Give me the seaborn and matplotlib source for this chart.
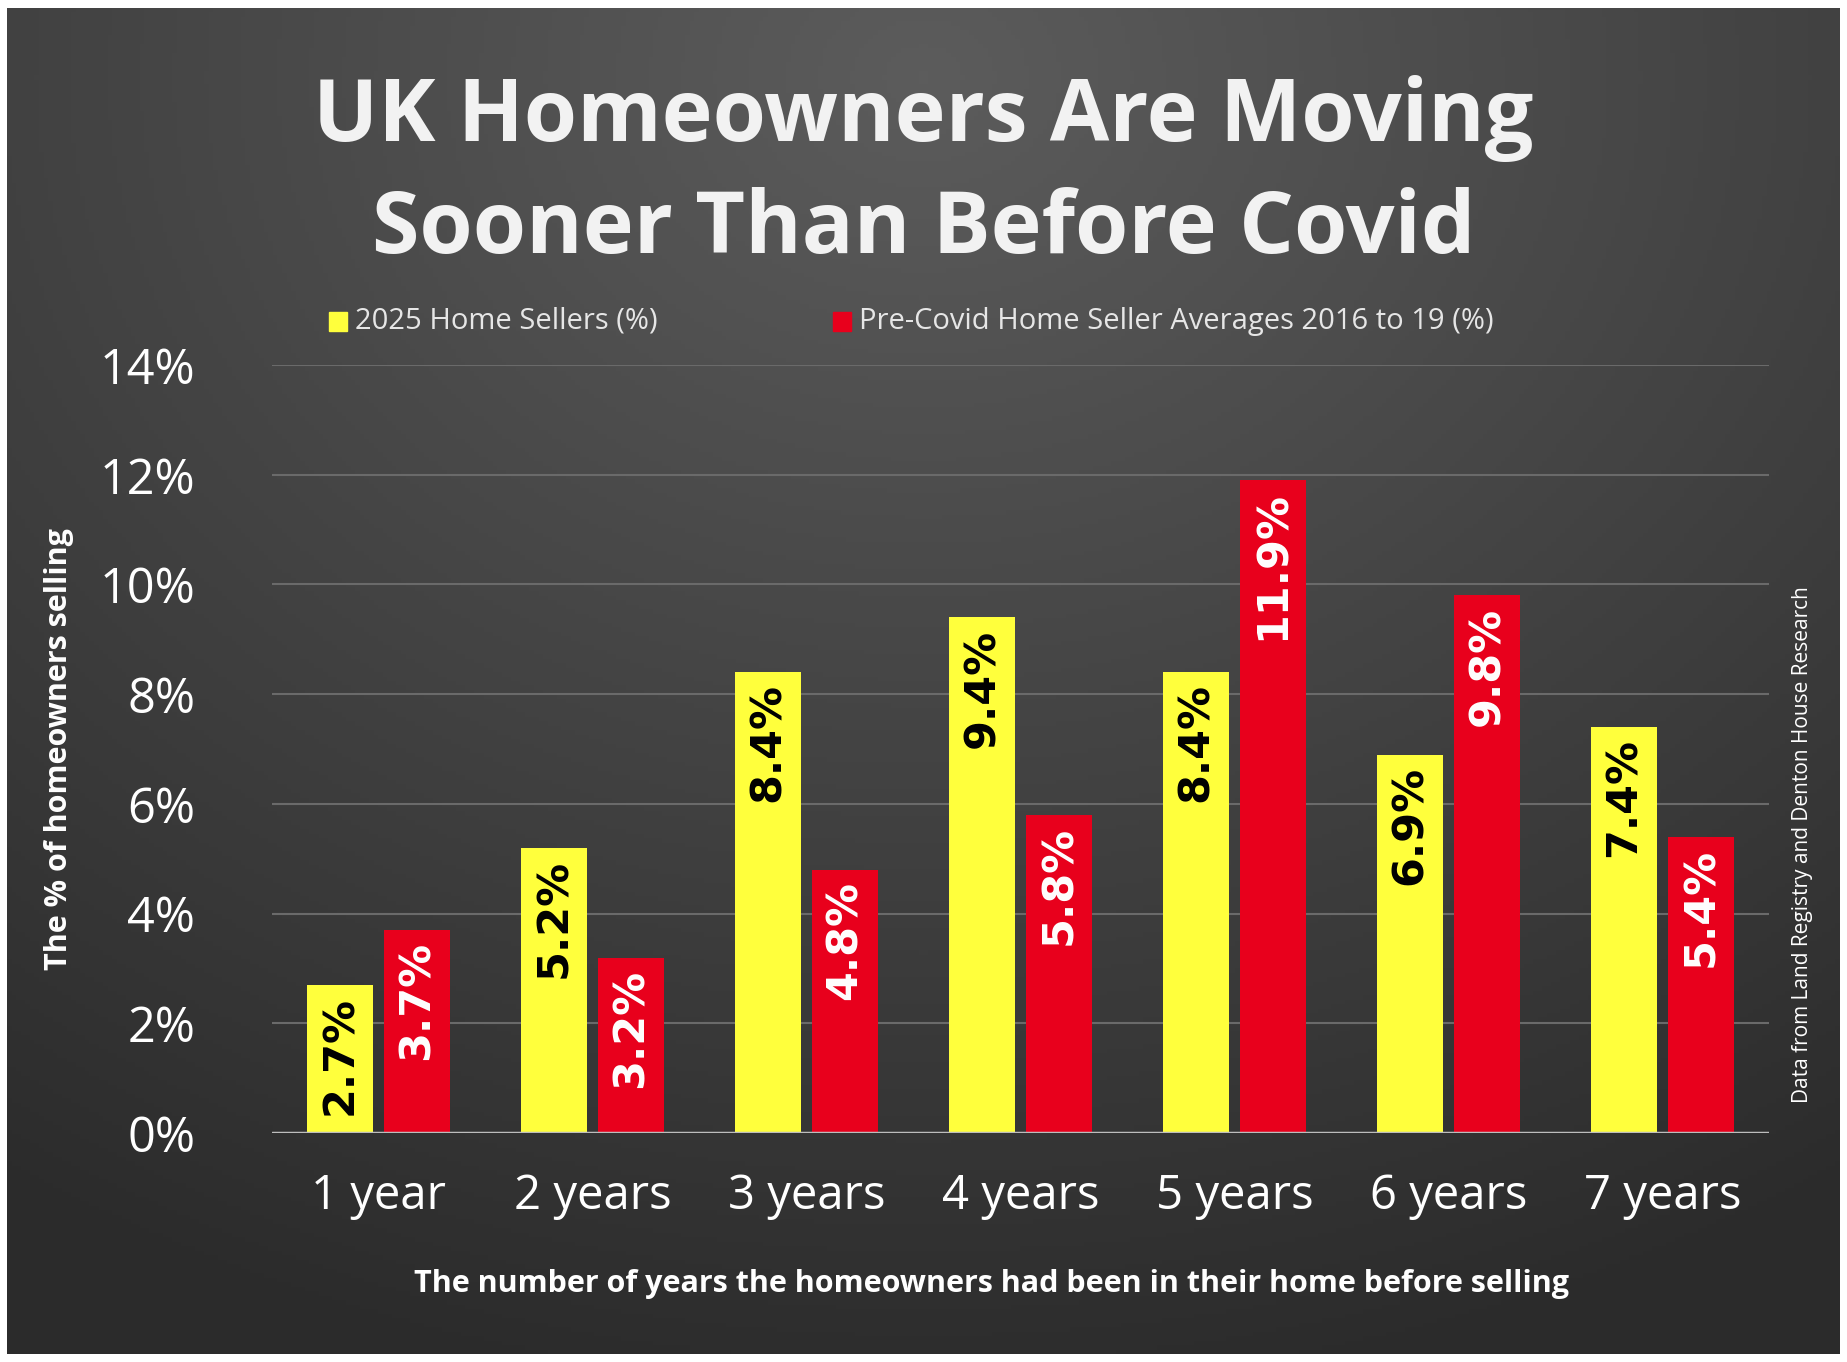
import numpy as np
import pandas as pd
import matplotlib
matplotlib.use('Agg')
import matplotlib.pyplot as plt
import seaborn as sns

years = ['1 year', '2 years', '3 years', '4 years', '5 years', '6 years', '7 years']
sellers_2025 = [2.7, 5.2, 8.4, 9.4, 8.4, 6.9, 7.4]
pre_covid = [3.7, 3.2, 4.8, 5.8, 11.9, 9.8, 5.4]
series = ['2025 Home Sellers (%)', 'Pre-Covid Home Seller Averages 2016 to 19 (%)']
colors = ['#FFFF3C', '#E8001C']

df = pd.DataFrame({
    'years': years * 2,
    'value': sellers_2025 + pre_covid,
    'series': [series[0]] * 7 + [series[1]] * 7,
})

sns.set_theme(style='dark')
plt.rcParams['font.family'] = ['Open Sans', 'DejaVu Sans']

fig = plt.figure(figsize=(18.47, 13.62), dpi=100)
fig.patch.set_facecolor('white')

# dark gradient background
bg = fig.add_axes([0.004, 0.006, 0.992, 0.988])
yy, xx = np.mgrid[0:1:300j, 0:1:400j]
r = np.sqrt((xx - 0.5) ** 2 * 1.2 + (yy - 0.05) ** 2)
bg.imshow(r, cmap=matplotlib.colors.LinearSegmentedColormap.from_list('g', ['#5c5c5c', '#2b2b2b']),
          aspect='auto', extent=[0, 1, 0, 1], origin='upper', vmin=0, vmax=1.0)
bg.axis('off')

ax = fig.add_axes([0.147, 0.168, 0.811, 0.564])
ax.set_facecolor('none')
sns.barplot(data=df, x='years', y='value', hue='series', palette=colors,
            width=0.72, gap=0.15, ax=ax, legend=False, saturation=1, linewidth=0)

ax.set_ylim(0, 14)
ax.set_yticks(range(0, 15, 2))
ax.set_yticklabels([f'{v}%' for v in range(0, 15, 2)], color='white', fontsize=35)
ax.tick_params(axis='y', pad=55)
ax.tick_params(axis='x', colors='white', labelsize=34, pad=28)
ax.tick_params(length=0)
for v in range(2, 15, 2):
    ax.axhline(v, color='#6a6a6a', lw=1.5, zorder=0)
ax.axhline(0, color='#bdbdbd', lw=2.5)
for s in ax.spines.values():
    s.set_visible(False)
ax.set_xlabel('')
ax.set_ylabel('')
ax.set_xlim(-0.5, 6.5)

for i, cont in enumerate(ax.containers):
    tc = 'black' if i == 0 else 'white'
    for bar, v in zip(cont, cont.datavalues):
        ax.text(bar.get_x() + bar.get_width() / 2, v - 0.2, f'{v:.1f}%',
                rotation=90, ha='center', va='top', color=tc,
                fontsize=31, fontweight='bold', family=['Liberation Sans Narrow', 'DejaVu Sans'])

fig.text(0.5, 0.913, 'UK Homeowners Are Moving', ha='center', va='center',
         color='#f2f2f2', fontsize=62, fontweight='bold')
fig.text(0.5, 0.831, 'Sooner Than Before Covid', ha='center', va='center',
         color='#f2f2f2', fontsize=62, fontweight='bold')

# legend
fig.patches.append(plt.Rectangle((0.178, 0.757), 0.01, 0.014, color=colors[0], transform=fig.transFigure))
fig.text(0.192, 0.764, series[0], color='#e6e6e6', fontsize=21, va='center')
fig.patches.append(plt.Rectangle((0.451, 0.757), 0.01, 0.014, color=colors[1], transform=fig.transFigure))
fig.text(0.465, 0.764, series[1], color='#e6e6e6', fontsize=21, va='center')

fig.text(0.032, 0.45, 'The % of homeowners selling', rotation=90, ha='center', va='center',
         color='white', fontsize=22, fontweight='bold')
fig.text(0.976, 0.38, 'Data from Land Registry and Denton House Research', rotation=90,
         ha='center', va='center', color='white', fontsize=15)
fig.text(0.537, 0.057, 'The number of years the homeowners had been in their home before selling',
         ha='center', va='center', color='white', fontsize=22, fontweight='bold')

fig.savefig('out.png', dpi=100)
